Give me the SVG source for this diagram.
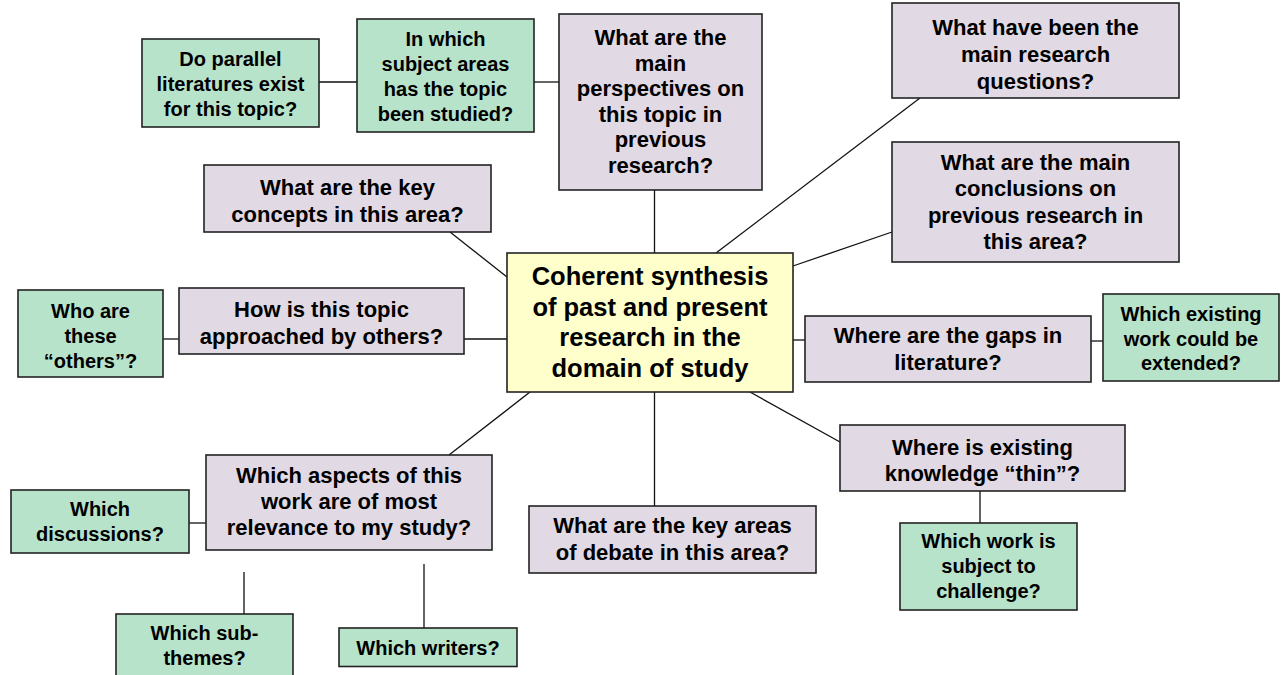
<svg xmlns="http://www.w3.org/2000/svg" width="1281" height="675" viewBox="0 0 1281 675">
<style>
rect{stroke:#222;stroke-width:1.6}
.p{fill:#E1D9E3}
.g{fill:#B8E3CB}
.y{fill:#FFFFCC}
text{font-family:"Liberation Sans",Arial,Helvetica,sans-serif;font-weight:bold;fill:#000;text-anchor:middle}
.t22{font-size:22px}
.t20{font-size:20px}
.t25{font-size:25.5px}
#connectors line{stroke:#111;stroke-width:1.3}
</style>
<rect x="0" y="0" width="1281" height="675" fill="#fff" style="stroke:none"/>
<g id="connectors">
<line x1="319" y1="82" x2="357" y2="82"/>
<line x1="534" y1="82" x2="559" y2="82"/>
<line x1="654.5" y1="190" x2="654.5" y2="253"/>
<line x1="920" y1="98" x2="716" y2="253"/>
<line x1="892" y1="232" x2="793" y2="266"/>
<line x1="450" y1="232" x2="507" y2="277"/>
<line x1="464" y1="339" x2="507" y2="339"/>
<line x1="163" y1="339" x2="179" y2="339"/>
<line x1="793" y1="340" x2="805" y2="340"/>
<line x1="1091" y1="341" x2="1103" y2="341"/>
<line x1="530" y1="392" x2="449" y2="455"/>
<line x1="189" y1="523" x2="206" y2="523"/>
<line x1="244" y1="572" x2="244" y2="614"/>
<line x1="424" y1="564" x2="424" y2="628"/>
<line x1="654.5" y1="392" x2="654.5" y2="506"/>
<line x1="750" y1="392" x2="840" y2="442"/>
<line x1="980" y1="491" x2="980" y2="523"/>
</g>
<g id="n-parallel">
<rect class="g" x="142" y="39" width="177" height="88"/>
<text class="t20" x="230.5" y="65.5">Do parallel</text>
<text class="t20" x="230.5" y="90.5">literatures exist</text>
<text class="t20" x="230.5" y="115.5">for this topic?</text>
</g>
<g id="n-subject">
<rect class="g" x="357" y="19" width="177" height="113"/>
<text class="t20" x="445.5" y="45.5">In which</text>
<text class="t20" x="445.5" y="70.5">subject areas</text>
<text class="t20" x="445.5" y="95.5">has the topic</text>
<text class="t20" x="445.5" y="120.5">been studied?</text>
</g>
<g id="n-perspectives">
<rect class="p" x="559" y="14" width="203" height="176"/>
<text class="t22" x="660.5" y="45">What are the</text>
<text class="t22" x="660.5" y="70.6">main</text>
<text class="t22" x="660.5" y="96.2">perspectives on</text>
<text class="t22" x="660.5" y="121.8">this topic in</text>
<text class="t22" x="660.5" y="147.4">previous</text>
<text class="t22" x="660.5" y="173">research?</text>
</g>
<g id="n-questions">
<rect class="p" x="892" y="3" width="287" height="95"/>
<text class="t22" x="1035.5" y="34.5">What have been the</text>
<text class="t22" x="1035.5" y="61.5">main research</text>
<text class="t22" x="1035.5" y="88.5">questions?</text>
</g>
<g id="n-concepts">
<rect class="p" x="204" y="165" width="287" height="67"/>
<text class="t22" x="347.5" y="195">What are the key</text>
<text class="t22" x="347.5" y="221.5">concepts in this area?</text>
</g>
<g id="n-approached">
<rect class="p" x="179" y="288" width="285" height="66"/>
<text class="t22" x="321.5" y="317">How is this topic</text>
<text class="t22" x="321.5" y="343.5">approached by others?</text>
</g>
<g id="n-others">
<rect class="g" x="18" y="290" width="145" height="87"/>
<text class="t20" x="90.5" y="318">Who are</text>
<text class="t20" x="90.5" y="343">these</text>
<text class="t20" x="90.5" y="368">“others”?</text>
</g>
<g id="n-center">
<rect class="y" x="507" y="253" width="286" height="139"/>
<text class="t25" x="650" y="285">Coherent synthesis</text>
<text class="t25" x="650" y="315.5">of past and present</text>
<text class="t25" x="650" y="346">research in the</text>
<text class="t25" x="650" y="376.5">domain of study</text>
</g>
<g id="n-conclusions">
<rect class="p" x="892" y="142" width="287" height="120"/>
<text class="t22" x="1035.5" y="169.5">What are the main</text>
<text class="t22" x="1035.5" y="196">conclusions on</text>
<text class="t22" x="1035.5" y="222.5">previous research in</text>
<text class="t22" x="1035.5" y="249">this area?</text>
</g>
<g id="n-gaps">
<rect class="p" x="805" y="316" width="286" height="66"/>
<text class="t22" x="948" y="343">Where are the gaps in</text>
<text class="t22" x="948" y="369.5">literature?</text>
</g>
<g id="n-extended">
<rect class="g" x="1103" y="294" width="176" height="87"/>
<text class="t20" x="1191" y="320.5">Which existing</text>
<text class="t20" x="1191" y="345.5">work could be</text>
<text class="t20" x="1191" y="370">extended?</text>
</g>
<g id="n-aspects">
<rect class="p" x="206" y="455" width="286" height="95"/>
<text class="t22" x="349" y="483">Which aspects of this</text>
<text class="t22" x="349" y="509">work are of most</text>
<text class="t22" x="349" y="535">relevance to my study?</text>
</g>
<g id="n-discussions">
<rect class="g" x="11" y="490" width="178" height="63"/>
<text class="t20" x="100" y="515.5">Which</text>
<text class="t20" x="100" y="540.5">discussions?</text>
</g>
<g id="n-subthemes">
<rect class="g" x="116" y="614" width="177" height="75"/>
<text class="t20" x="204.5" y="640">Which sub-</text>
<text class="t20" x="204.5" y="665">themes?</text>
</g>
<g id="n-writers">
<rect class="g" x="339" y="628" width="178" height="38.5"/>
<text class="t20" x="428" y="654.5">Which writers?</text>
</g>
<g id="n-debate">
<rect class="p" x="529" y="506" width="287" height="67"/>
<text class="t22" x="672.5" y="533">What are the key areas</text>
<text class="t22" x="672.5" y="560">of debate in this area?</text>
</g>
<g id="n-thin">
<rect class="p" x="840" y="425" width="285" height="66"/>
<text class="t22" x="982.5" y="455">Where is existing</text>
<text class="t22" x="982.5" y="481">knowledge “thin”?</text>
</g>
<g id="n-challenge">
<rect class="g" x="900" y="523" width="177" height="87"/>
<text class="t20" x="988.5" y="548">Which work is</text>
<text class="t20" x="988.5" y="573">subject to</text>
<text class="t20" x="988.5" y="598">challenge?</text>
</g>
</svg>
